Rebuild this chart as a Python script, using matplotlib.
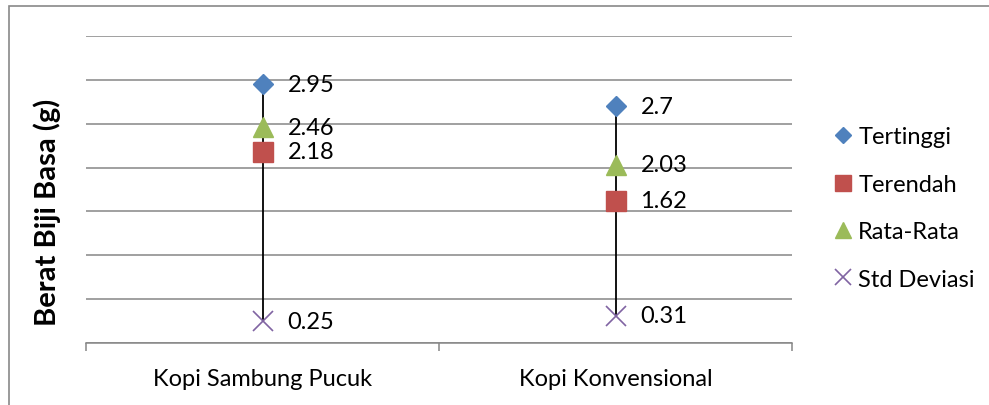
import matplotlib.pyplot as plt
from matplotlib.patches import Rectangle

plt.rcParams['font.family'] = ['Lato', 'DejaVu Sans']

kategori = ["Kopi Sambung Pucuk", "Kopi Konvensional"]
tertinggi = [2.95, 2.7]
terendah = [2.18, 1.62]
rata_rata = [2.46, 2.03]
std_deviasi = [0.25, 0.31]

seri = [
    ("Tertinggi", tertinggi, "D", "#4F81BD", 10),
    ("Terendah", terendah, "s", "#C0504D", 14),
    ("Rata-Rata", rata_rata, "^", "#9BBB59", 14),
    ("Std Deviasi", std_deviasi, "x", "#8064A2", 14),
]

W, H = 989, 406
fig = plt.figure(figsize=(W / 100, H / 100), dpi=100)
ax = fig.add_axes([86 / W, (H - 344) / H, (792 - 86) / W, (344 - 37) / H])

x = list(range(len(kategori)))
grid_col = "#868686"

# high-low lines
hi = [max(v) for v in zip(tertinggi, terendah, rata_rata, std_deviasi)]
lo = [min(v) for v in zip(tertinggi, terendah, rata_rata, std_deviasi)]
ax.vlines(x, lo, hi, color="black", lw=1.3, zorder=2)

handles = []
for nama, vals, mk, col, ms in seri:
    if mk == "x":
        h, = ax.plot(x, vals, ls="none", marker=mk, ms=ms, mec=col, mew=1.2,
                     zorder=3, label=nama)
    else:
        h, = ax.plot(x, vals, ls="none", marker=mk, ms=ms, mfc=col, mec=col,
                     zorder=3, label=nama)
    handles.append(h)
    for xi, v in zip(x, vals):
        ax.annotate(f"{v:g}", (xi, v), xytext=(18, 0), textcoords="offset points",
                    va="center", ha="left", fontsize=17)

ax.set_xlim(-0.5, 1.5)
ax.set_ylim(0, 3.5)
ax.set_yticks([0.5 * i for i in range(8)])
ax.set_yticklabels([])
ax.tick_params(axis="y", length=0)
ax.grid(axis="y", color=grid_col, lw=1.1)
ax.set_axisbelow(True)

ax.set_xticks(x)
ax.set_xticklabels(kategori, fontsize=17)
ax.set_xticks([-0.5, 0.5, 1.5], minor=True)
ax.tick_params(axis="x", which="major", length=0, pad=18)
ax.tick_params(axis="x", which="minor", length=6, width=1.1, color=grid_col)

for s in ["left", "right", "top"]:
    ax.spines[s].set_visible(False)
ax.spines["bottom"].set_color(grid_col)
ax.spines["bottom"].set_linewidth(1.1)

fig.text(47 / W, 1 - 212 / H, "Berat Biji Basa (g)", rotation=90, fontsize=21,
         fontweight="bold", ha="center", va="center")

ax.legend(handles=handles, loc="center left", bbox_to_anchor=(824 / W, 1 - 209 / H),
          bbox_transform=fig.transFigure, frameon=False, fontsize=17,
          markerscale=0.85, handlelength=0.6, handletextpad=0.35, labelspacing=1.12,
          borderpad=0)

fig.add_artist(Rectangle((9 / W, -0.1), 1.1, 1 - 7 / H + 0.1, transform=fig.transFigure,
                         fill=False, edgecolor="#898989", lw=1.2))

fig.savefig("out.png", dpi=100)
